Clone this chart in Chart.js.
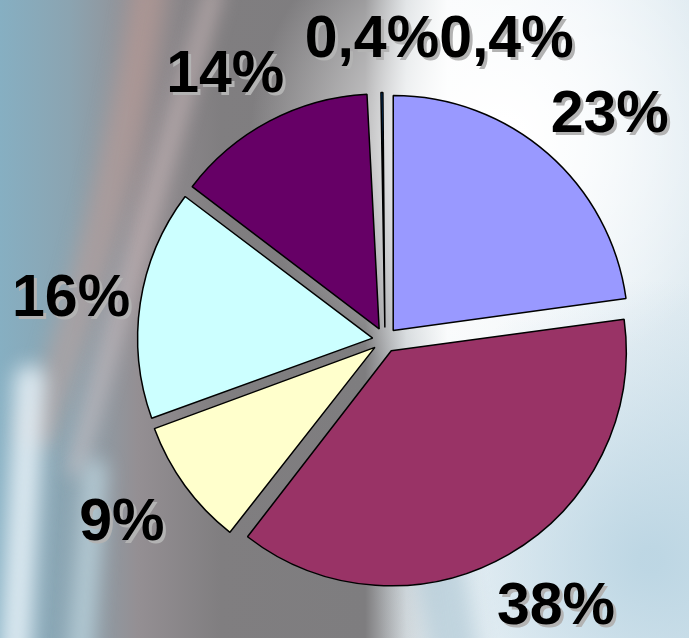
<!DOCTYPE html>
<html>
<head>
<meta charset="utf-8">
<script src="https://cdn.jsdelivr.net/npm/chart.js@4.4.0/dist/chart.umd.min.js"></script>
<style>
html, body { margin: 0; padding: 0; background: #fff; }
#boxPizza { width: 689px; height: 638px; }
</style>
</head>
<body>
<div id="boxPizza"><canvas id="chartPizza" width="689" height="638"></canvas></div>
<script>
// dados da pizza (sentido horario a partir do topo)
const rotulos = ['23%', '38%', '9%', '16%', '14%', '0,4%', '0,4%'];
const valores = [23, 38, 9, 16, 14, 0.4, 0.4];
const cores = ['#9999FF', '#993366', '#FFFFCC', '#CCFFFF', '#660066', 'rgba(255,255,255,0)', '#0066CC'];
const bordas = [1.5, 1.5, 1.5, 1.5, 1.5, 0, 1.5];

function desenharFundo(ctx, w, h) {
    const g = ctx.createLinearGradient(0, 0, w, 0);
    g.addColorStop(0, '#86afc2');
    g.addColorStop(0.1, '#8ba4b1');
    g.addColorStop(0.2, '#948f93');
    g.addColorStop(0.32, '#807e80');
    g.addColorStop(0.53, '#7e7d7f');
    g.addColorStop(0.59, '#d2d7da');
    g.addColorStop(0.65, '#f8fafb');
    g.addColorStop(0.85, '#eef4f8');
    g.addColorStop(1, '#e0ebf1');
    ctx.fillStyle = g;
    ctx.fillRect(0, 0, w, h);

    let r = ctx.createRadialGradient(500, 140, 20, 500, 140, 250);
    r.addColorStop(0, 'rgba(255,255,255,1)');
    r.addColorStop(1, 'rgba(255,255,255,0)');
    ctx.fillStyle = r;
    ctx.fillRect(0, 0, w, h);

    r = ctx.createRadialGradient(650, 560, 10, 650, 560, 280);
    r.addColorStop(0, 'rgba(185,212,226,0.9)');
    r.addColorStop(1, 'rgba(185,212,226,0)');
    ctx.fillStyle = r;
    ctx.fillRect(0, 0, w, h);

    ctx.save();
    ctx.filter = 'blur(10px)';
    ctx.lineCap = 'round';
    // faixa clara azulada embaixo, no centro
    ctx.strokeStyle = 'rgba(175,200,212,0.7)';
    ctx.lineWidth = 50;
    ctx.beginPath(); ctx.moveTo(440, 570); ctx.lineTo(455, 660); ctx.stroke();
    // brilho rosado/creme da esquerda
    ctx.strokeStyle = 'rgba(200,160,150,0.45)';
    ctx.lineWidth = 34;
    ctx.beginPath(); ctx.moveTo(150, -10); ctx.quadraticCurveTo(110, 230, 40, 430); ctx.stroke();
    ctx.strokeStyle = 'rgba(240,215,215,0.6)';
    ctx.lineWidth = 12;
    ctx.beginPath(); ctx.moveTo(215, -10); ctx.quadraticCurveTo(140, 240, 75, 470); ctx.stroke();
    // riscos claros embaixo a esquerda
    ctx.strokeStyle = 'rgba(235,245,250,0.85)';
    ctx.lineWidth = 30;
    ctx.beginPath(); ctx.moveTo(30, 380); ctx.lineTo(15, 660); ctx.stroke();
    ctx.strokeStyle = 'rgba(200,225,235,0.7)';
    ctx.lineWidth = 22;
    ctx.beginPath(); ctx.moveTo(95, 470); ctx.lineTo(80, 660); ctx.stroke();
    ctx.restore();
}

const pluginFundo = {
    id: 'fundo',
    beforeDraw(chart) {
        desenharFundo(chart.ctx, chart.width, chart.height);
    }
};

// o ArcElement aumenta o raio das fatias finas quando ha offset; aqui desfaz isso
const pluginRaio = {
    id: 'raioFixo',
    beforeDatasetsDraw(chart) {
        const meta = chart.getDatasetMeta(0);
        const base = meta.controller.outerRadius;
        meta.data.forEach(arc => {
            const off = (arc.options.offset || 0) / 4;
            const fix = 1 - Math.sin(Math.min(Math.PI, arc.circumference || 0));
            arc.outerRadius = base - off * fix;
        });
    }
};

const pluginRotulos = {
    id: 'rotulos',
    afterDatasetsDraw(chart) {
        const ctx = chart.ctx;
        const meta = chart.getDatasetMeta(0);
        const base = meta.controller.outerRadius;
        const tamanho = 59;
        const cap = tamanho * 0.716;
        const margem = 12;
        ctx.save();
        ctx.font = 'bold ' + tamanho + 'px "Liberation Sans", Arial, sans-serif';
        ctx.textAlign = 'center';
        ctx.textBaseline = 'alphabetic';
        const caixas = [];
        meta.data.forEach((arc, i) => {
            const a = (arc.startAngle + arc.endAngle) / 2;
            const w = ctx.measureText(rotulos[i]).width;
            const dist = base + 48;
            let cx = arc.x + Math.cos(a) * dist + Math.cos(a) * w / 2;
            let cy = arc.y + Math.sin(a) * dist + Math.sin(a) * cap / 2;
            cx = Math.min(Math.max(cx, w / 2 + margem), chart.width - w / 2 - margem);
            caixas.forEach(c => {
                if (Math.abs(cx - c.x) < (w + c.w) / 2 && Math.abs(cy - c.y) < cap) {
                    cx = cx >= c.x ? c.x + (w + c.w) / 2 : c.x - (w + c.w) / 2;
                }
            });
            caixas.push({x: cx, y: cy, w: w});
            ctx.fillStyle = '#b3b3b3';
            ctx.fillText(rotulos[i], cx + 3, cy + cap / 2 + 3);
            ctx.fillStyle = '#000';
            ctx.fillText(rotulos[i], cx, cy + cap / 2);
        });
        ctx.restore();
    }
};

const canvasPizza = document.getElementById('chartPizza');
canvasPizza.chart = new Chart(canvasPizza, {
    type: 'pie',
    data: {
        labels: rotulos,
        datasets: [{
            data: valores,
            backgroundColor: cores,
            borderColor: '#000',
            borderWidth: bordas,
            offset: 50,
            radius: 235
        }]
    },
    options: {
        responsive: false,
        animation: false,
        layout: { padding: { left: 81, top: 42, right: 0, bottom: 0 } },
        plugins: {
            legend: { display: false },
            tooltip: { enabled: false }
        }
    },
    plugins: [pluginFundo, pluginRaio, pluginRotulos]
});
</script>
</body>
</html>
